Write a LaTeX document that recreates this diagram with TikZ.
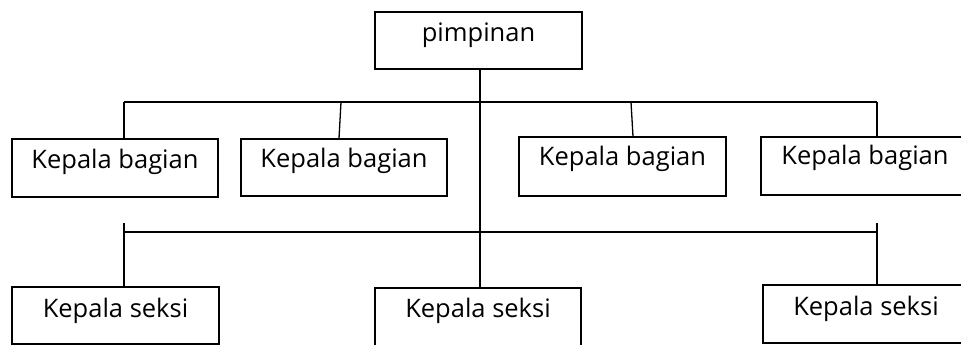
\documentclass[tikz,border=0pt]{standalone}
\usepackage{fontspec}
\setmainfont{Open Sans}
\begin{document}
\begin{tikzpicture}[x=1pt,y=-1pt,
  line width=1.3pt,
  box/.style={draw, line width=1.3pt, inner sep=0pt, anchor=base, font=\fontsize{25.5}{30}\selectfont}]
\useasboundingbox (0,0) rectangle (961,345);
% top
\node[box, minimum width=207pt, text height=30pt, text depth=27pt] (top) at (478.5,42) {pimpinan};
% kepala bagian
\node[box, minimum width=206pt, text height=29pt, text depth=29pt] (b1) at (115,168) {Kepala bagian};
\node[box, minimum width=206pt, text height=28pt, text depth=29pt] (b2) at (344,167) {Kepala bagian};
\node[box, minimum width=207pt, text height=28pt, text depth=31pt] (b3) at (622.5,165) {Kepala bagian};
\node[box, minimum width=208pt, text height=27pt, text depth=31pt] (b4) at (865,164) {Kepala bagian};
% kepala seksi
\node[box, minimum width=207pt, text height=30pt, text depth=27pt] (b5) at (115.5,317) {Kepala seksi};
\node[box, minimum width=206pt, text height=29pt, text depth=29pt] (b6) at (478,317) {Kepala seksi};
\node[box, minimum width=206pt, text height=30pt, text depth=28pt] (b7) at (866,315) {Kepala seksi};
% coordinates
\coordinate (spine) at (480,102);
\coordinate (h1l) at (124,102);
\coordinate (h1r) at (877,102);
\coordinate (c2t) at (341,102);
\coordinate (c2b) at (339,0);
\coordinate (c3t) at (631,102);
\coordinate (c3b) at (633,0);
\coordinate (h2l) at (124,232);
\coordinate (h2r) at (877,232);
\coordinate (t2l) at (124,223);
\coordinate (t2r) at (877,223);
% connectors
\draw (top.south -| spine) -- (b6.north -| spine);
\draw (h1l) -- (h1r);
\draw (h1l) -- (b1.north -| h1l);
\draw (c2t) -- (b2.north -| c2b);
\draw (c3t) -- (b3.north -| c3b);
\draw (h1r) -- (b4.north -| h1r);
\draw (h2l) -- (h2r);
\draw (t2l) -- (b5.north -| t2l);
\draw (t2r) -- (b7.north -| t2r);
\end{tikzpicture}
\end{document}
